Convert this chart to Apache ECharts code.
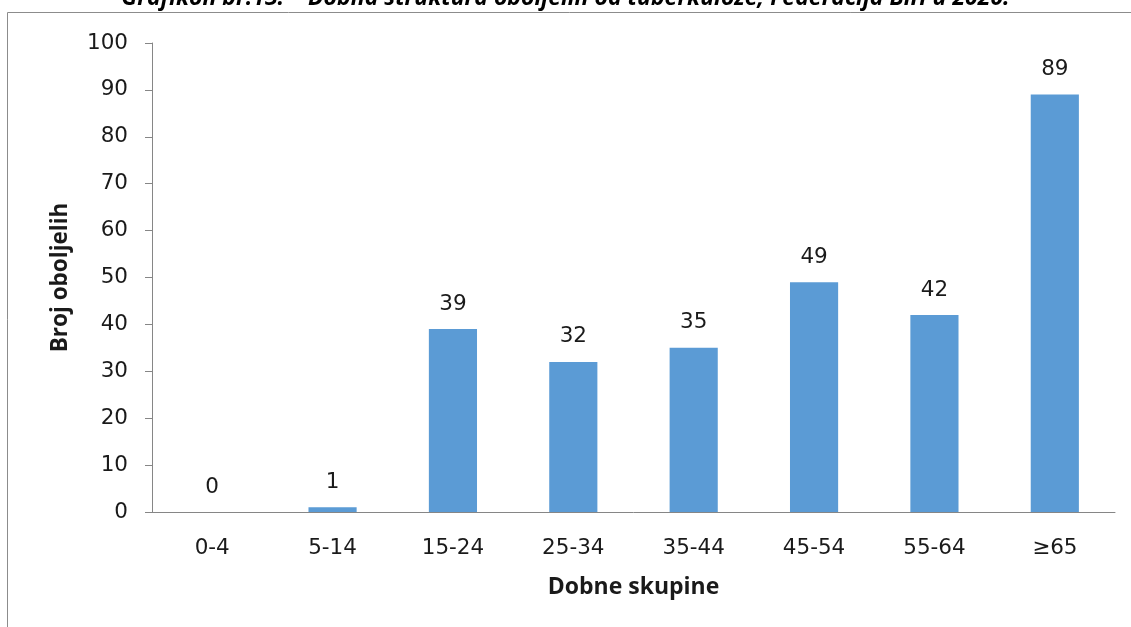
<!DOCTYPE html>
<html><head><meta charset="utf-8">
<script src="https://cdn.jsdelivr.net/npm/echarts@6/dist/echarts.min.js"></script>
<style>html,body{margin:0;padding:0;background:#fff}#c{width:1131px;height:627px}</style>
</head><body><div id="c"></div>
<script>
const categories = ['0-4','5-14','15-24','25-34','35-44','45-54','55-64','≥65'];
const values = [0,1,39,32,35,49,42,89];
const yTicks = [0,10,20,30,40,50,60,70,80,90,100];
const titleText = 'Grafikon br.13.    Dobna struktura oboljelih od tuberkuloze, Federacija BiH u 2020.';
const xName = 'Dobne skupine';
const yName = 'Broj oboljelih';

const txt = '#1a1a1a';
const chart = echarts.init(document.getElementById('c'), null, {renderer:'canvas'});
chart.setOption({
  animation:false,
  backgroundColor:'#fff',
  grid:{left:152,right:16,top:43,bottom:115,containLabel:false},
  graphic:[
    {type:'line',shape:{x1:7.5,y1:12.5,x2:1131,y2:12.5},style:{stroke:'#8c8c8c',lineWidth:1}},
    {type:'line',shape:{x1:7.5,y1:12.5,x2:7.5,y2:627},style:{stroke:'#8c8c8c',lineWidth:1}},
    {type:'text',left:'center',top:-13,style:{text:titleText,font:'italic bold 23px "Liberation Sans Narrow", "Open Sans", sans-serif',fill:'#000'}}
  ],
  xAxis:{type:'category',data:categories,
    axisLine:{lineStyle:{color:'#868686',width:1}},axisTick:{show:false},
    axisLabel:{color:txt,fontSize:21.5,fontFamily:'DejaVu Sans',margin:25},
    name:xName,nameLocation:'middle',nameGap:64,
    nameTextStyle:{color:txt,fontSize:23,fontWeight:'bold',fontFamily:'Open Sans'}},
  yAxis:{type:'value',min:0,max:100,interval:10,
    axisLine:{show:true,lineStyle:{color:'#868686',width:1}},
    axisTick:{show:true,length:7,lineStyle:{color:'#868686'}},
    splitLine:{show:false},
    axisLabel:{color:txt,fontSize:21.5,fontFamily:'DejaVu Sans',margin:24,
      formatter:v=>yTicks.includes(v)?String(v):''},
    name:yName,nameLocation:'middle',nameGap:80,
    nameTextStyle:{color:txt,fontSize:22.5,fontWeight:'bold',fontFamily:'Open Sans'}},
  series:[{type:'bar',data:values,barWidth:'40%',
    itemStyle:{color:'#5B9BD5'},
    label:{show:true,position:'top',distance:14,color:txt,fontSize:21.5,fontFamily:'DejaVu Sans'}}]
});
</script></body></html>
